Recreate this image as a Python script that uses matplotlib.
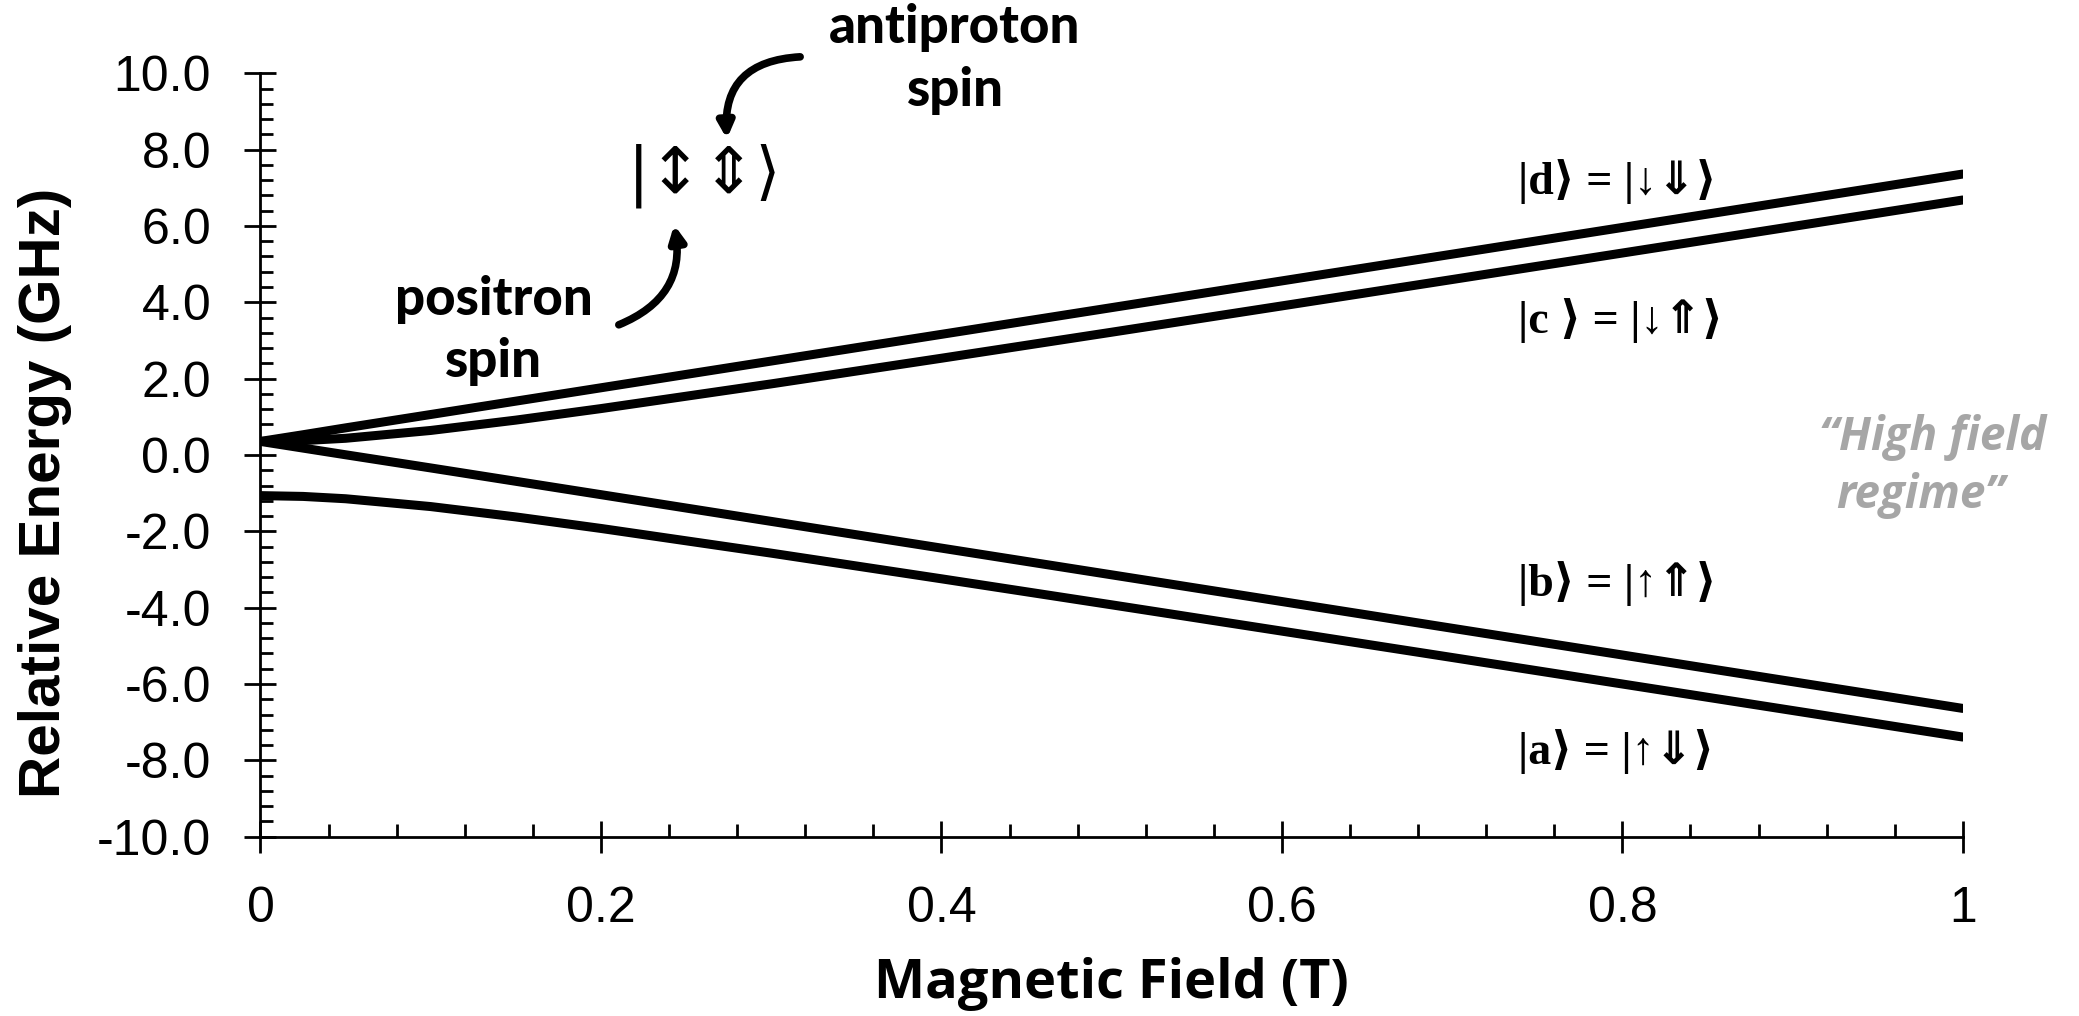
import matplotlib
matplotlib.use("Agg")
import matplotlib.pyplot as plt
from matplotlib.ticker import MultipleLocator, FuncFormatter

# values (GHz vs Tesla)
field = [0, 0.025, 0.05, 0.1, 0.15, 0.2, 0.3, 0.4, 0.5, 0.6, 0.7, 0.8, 0.9, 1.0]
state_d = [0.355, 0.53, 0.71, 1.06, 1.41, 1.76, 2.46, 3.16, 3.86, 4.56, 5.26, 5.96, 6.66, 7.36]
state_c = [0.355, 0.376, 0.437, 0.642, 0.913, 1.215, 1.862, 2.534, 3.216, 3.905, 4.596, 5.29, 5.985, 6.68]
state_b = [0.355, 0.18, 0.005, -0.34, -0.69, -1.04, -1.74, -2.44, -3.14, -3.84, -4.54, -5.24, -5.94, -6.64]
state_a = [-1.065, -1.086, -1.147, -1.352, -1.623, -1.925, -2.572, -3.244, -3.926, -4.615, -5.306, -6.0, -6.695, -7.39]

state_labels = ["|d⟩ = |↓⇓⟩", "|c ⟩ = |↓⇑⟩", "|b⟩ = |↑⇑⟩", "|a⟩ = |↑⇓⟩"]
label_y = [7.16, 3.51, -3.36, -7.78]

fig = plt.figure(figsize=(20.79, 10.16), dpi=100, facecolor='white')
ax = fig.add_axes([0.1253, 0.1765, 0.8188, 0.7514])

for series in (state_d, state_c, state_b, state_a):
    ax.plot(field, series, color='black', lw=6.5, solid_capstyle='round')

ax.set_xlim(0, 1)
ax.set_ylim(-10, 10)
ax.spines['top'].set_visible(False)
ax.spines['right'].set_visible(False)
ax.spines['left'].set_linewidth(2)
ax.spines['bottom'].set_linewidth(2)

ax.xaxis.set_major_locator(MultipleLocator(0.2))
ax.xaxis.set_minor_locator(MultipleLocator(0.04))
ax.yaxis.set_major_locator(MultipleLocator(2))
ax.yaxis.set_minor_locator(MultipleLocator(0.4))
ax.xaxis.set_major_formatter(FuncFormatter(lambda v, p: '%g' % round(v, 2)))
ax.yaxis.set_major_formatter(FuncFormatter(lambda v, p: '%.1f' % v))

ax.tick_params(which='major', direction='inout', length=23, width=2, pad=24,
               labelsize=36)
ax.tick_params(which='minor', direction='in', length=9.5, width=2)
for lab in ax.get_xticklabels() + ax.get_yticklabels():
    lab.set_family('Liberation Sans')

ax.set_ylabel('Relative Energy (GHz)', fontsize=42, fontweight='bold',
              family='Liberation Sans')
ax.yaxis.set_label_coords(-0.111, 0.45)
ax.set_xlabel('Magnetic Field (T)', fontsize=39, fontweight='bold',
              family='Open Sans')
ax.xaxis.set_label_coords(0.5, -0.158)

ket_font = ['Liberation Serif', 'DejaVu Sans']
for txt, yy in zip(state_labels, label_y):
    ax.text(0.739, yy, txt, fontsize=33, fontweight='bold', family=ket_font,
            va='center', ha='left')

# spin notation annotation
ax.text(0.261, 7.31, '|↕⇕⟩', fontsize=46, family=['DejaVu Sans'], va='center',
        ha='center')
note_font = dict(fontsize=38, fontweight='black', family='Lato', ha='center',
                 va='center', clip_on=False)
ax.text(0.408, 11.21, 'antiproton', **note_font)
ax.text(0.408, 9.56, 'spin', **note_font)
ax.text(0.137, 4.06, 'positron', **note_font)
ax.text(0.137, 2.46, 'spin', **note_font)

arrow = dict(arrowstyle='-|>,head_length=0.9,head_width=0.45', lw=5.5,
             color='black', shrinkA=0, shrinkB=0)
ax.annotate('', xy=(0.274, 8.28), xytext=(0.317, 10.43), annotation_clip=False,
            arrowprops=dict(connectionstyle='arc3,rad=0.5', **arrow))
ax.annotate('', xy=(0.243, 6.03), xytext=(0.2105, 3.41), annotation_clip=False,
            arrowprops=dict(connectionstyle='arc3,rad=0.4', **arrow))

hf_font = dict(fontsize=33, fontweight='bold', style='italic', color='#a6a6a6',
               family='Open Sans', ha='center', va='center', clip_on=False)
ax.text(0.982, 0.47, '“High field', **hf_font)
ax.text(0.975, -1.05, 'regime”', **hf_font)

fig.savefig('out.png', dpi=100, facecolor='white')
